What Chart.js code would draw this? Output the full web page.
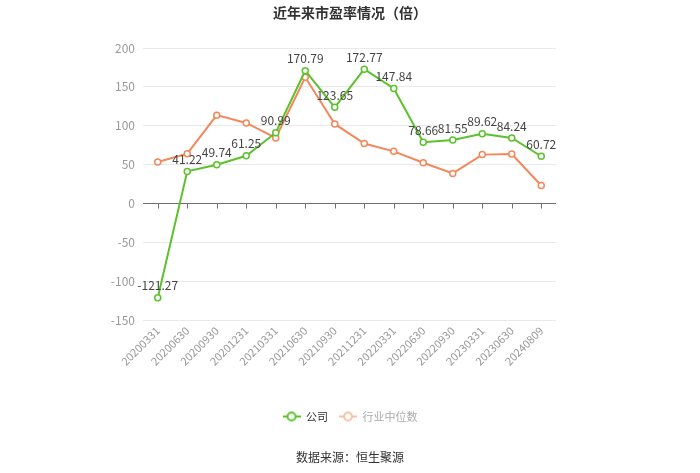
<!DOCTYPE html>
<html>
<head>
<meta charset="utf-8">
<script src="https://cdn.jsdelivr.net/npm/chart.js@4"></script>
<style>
  body { margin: 0; background: #fff; font-family: "Noto Sans CJK SC", sans-serif; }
  #wrap { position: relative; width: 700px; height: 473px; }
  #title { position: absolute; top: 2px; left: 0; width: 700px; text-align: center; font-size: 14px; font-weight: bold; color: #333; }
  #source { position: absolute; top: 448px; left: 0; width: 700px; text-align: center; font-size: 12px; color: #333; }
  canvas { position: absolute; left: 0; top: 0; }
</style>
</head>
<body>
<div id="wrap">
  <canvas id="peChart" width="700" height="473"></canvas>
  <div id="title">近年来市盈率情况（倍）</div>
  <div id="source">数据来源：恒生聚源</div>
</div>
<script>
var categories = ['20200331', '20200630', '20200930', '20201231', '20210331', '20210630', '20210930',
  '20211231', '20220331', '20220630', '20220930', '20230331', '20230630', '20240809'];
var companyPE = [-121.27, 41.22, 49.74, 61.25, 90.99, 170.79, 123.65, 172.77, 147.84, 78.66, 81.55, 89.62, 84.24, 60.72];
var industryPE = [53.2, 64.0, 113.6, 103.6, 84.2, 162.3, 102.3, 77.0, 67.0, 52.4, 38.6, 62.8, 63.6, 23.1];
var yTicks = [-150, -100, -50, 0, 50, 100, 150, 200];

var green = '#5bc22c';
var orange = '#f4875a';

function legendIcon(color) {
  var c = document.createElement('canvas');
  c.width = 18; c.height = 12;
  var ctx = c.getContext('2d');
  ctx.strokeStyle = color;
  ctx.lineWidth = 2;
  ctx.beginPath(); ctx.moveTo(0, 6); ctx.lineTo(18, 6); ctx.stroke();
  ctx.fillStyle = '#fff';
  ctx.beginPath(); ctx.arc(9, 6, 4, 0, Math.PI * 2); ctx.fill(); ctx.stroke();
  return c;
}

// zero axis line with ticks and value labels
var extras = {
  id: 'extras',
  beforeDatasetsDraw: function(chart) {
    var ctx = chart.ctx, x = chart.scales.x, y = chart.scales.y;
    var y0 = Math.round(y.getPixelForValue(0)) + 0.5;
    ctx.save();
    ctx.strokeStyle = '#6e7079';
    ctx.lineWidth = 1;
    ctx.beginPath();
    ctx.moveTo(chart.chartArea.left, y0); ctx.lineTo(chart.chartArea.right, y0);
    for (var i = 0; i < categories.length; i++) {
      var px = Math.round(x.getPixelForValue(i)) + 0.5;
      ctx.moveTo(px, y0); ctx.lineTo(px, y0 + 5);
    }
    ctx.stroke();
    ctx.restore();
  },
  afterDatasetsDraw: function(chart) {
    var ctx = chart.ctx;
    var meta = chart.getDatasetMeta(0);
    ctx.save();
    ctx.font = '12px "Noto Sans CJK SC", sans-serif';
    ctx.fillStyle = '#444';
    ctx.textAlign = 'center';
    ctx.textBaseline = 'middle';
    meta.data.forEach(function(pt, i) {
      ctx.fillText(companyPE[i].toFixed(2), pt.x, pt.y - 12);
    });
    ctx.restore();
  }
};

new Chart(document.getElementById('peChart'), {
  type: 'line',
  data: {
    labels: categories,
    datasets: [{
      label: '公司',
      data: companyPE,
      borderColor: green,
      backgroundColor: '#fff',
      borderWidth: 2,
      pointRadius: 3,
      pointBorderWidth: 1.5,
      pointBackgroundColor: '#fff',
      tension: 0
    }, {
      label: '行业中位数',
      data: industryPE,
      borderColor: orange,
      backgroundColor: '#fff',
      borderWidth: 2,
      pointRadius: 3,
      pointBorderWidth: 1.5,
      pointBackgroundColor: '#fff',
      tension: 0
    }]
  },
  options: {
    responsive: false,
    animation: false,
    layout: { padding: { left: 0, right: 0, top: 48, bottom: 41 } },
    plugins: {
      tooltip: { enabled: false },
      legend: {
        position: 'bottom',
        labels: {
          usePointStyle: true,
          pointStyleWidth: 18,
          padding: 11,
          font: { size: 11, family: '"Noto Sans CJK SC", sans-serif' },
          generateLabels: function(chart) {
            return [
              { text: '公司', pointStyle: legendIcon(green), fontColor: '#333', datasetIndex: 0, lineWidth: 0 },
              { text: '行业中位数', pointStyle: legendIcon('#f8c0a6'), fontColor: '#aaa', datasetIndex: 1, lineWidth: 0 }
            ];
          }
        }
      }
    },
    scales: {
      x: {
        offset: true,
        grid: { display: false, drawTicks: false },
        border: { display: false },
        ticks: {
          color: '#999',
          font: { size: 11, family: '"Noto Sans CJK SC", sans-serif' },
          maxRotation: 45,
          minRotation: 45,
          autoSkip: false,
          padding: 4
        },
        afterFit: function(scale) { scale.height = 80; }
      },
      y: {
        min: -150,
        max: 200,
        afterBuildTicks: function(scale) {
          scale.ticks = yTicks.map(function(v) { return { value: v }; });
        },
        grid: { color: '#e9e9e9', drawTicks: false },
        border: { display: false },
        ticks: {
          color: '#999',
          font: { size: 12, family: '"Noto Sans CJK SC", sans-serif' },
          padding: 8
        },
        afterFit: function(scale) { scale.width = 143; }
      },
      // empty right-hand gutter so the legend stays centred on the page
      gutter: {
        type: 'linear',
        position: 'right',
        grid: { display: false, drawTicks: false },
        border: { display: false },
        ticks: { display: false },
        afterFit: function(scale) { scale.width = 144; }
      }
    }
  },
  plugins: [extras]
});
</script>
</body>
</html>
